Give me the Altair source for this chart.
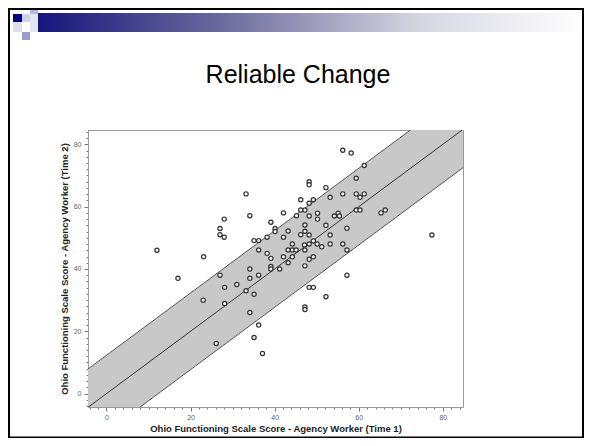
import altair as alt
import pandas as pd

# ---- data ----
time1 = [12.0, 17.0, 23.1, 23.0, 26.1, 27.0, 27.0, 27.0, 28.0, 28.0, 28.1, 28.1,
         31.0, 33.2, 33.2, 34.1, 34.1, 34.1, 34.1, 35.1, 35.1, 35.1, 36.2, 36.2,
         36.2, 36.2, 37.1, 38.2, 38.2, 39.1, 39.1, 39.1, 39.1, 40.1, 40.1, 41.2,
         42.1, 42.1, 42.1, 43.2, 43.2, 43.2, 44.2, 44.2, 44.2, 45.2, 45.1, 46.2,
         46.2, 46.2, 47.2, 47.2, 47.2, 47.1, 47.2, 47.2, 47.2, 47.2, 48.2, 48.2,
         48.2, 48.2, 48.2, 48.2, 48.2, 48.2, 49.2, 49.2, 49.2, 49.2, 50.2, 50.2,
         50.1, 51.2, 52.2, 52.2, 52.2, 53.2, 53.2, 53.2, 54.2, 55.1, 55.4, 56.2,
         56.2, 56.2, 57.2, 57.2, 57.2, 58.2, 59.4, 59.4, 59.4, 60.3, 60.3, 61.3,
         61.3, 65.3, 66.3, 77.4]
time2 = [46.0, 37.0, 43.9, 30.0, 16.1, 53.0, 51.0, 38.0, 50.2, 56.0, 34.1, 28.9,
         35.0, 64.1, 33.0, 57.1, 40.0, 37.0, 26.0, 49.1, 31.9, 18.0, 49.1, 46.1,
         38.0, 22.0, 12.9, 50.2, 45.0, 55.0, 43.4, 40.8, 40.0, 53.0, 52.0, 40.0,
         58.0, 50.2, 43.9, 52.2, 46.1, 42.0, 48.0, 46.1, 43.9, 57.1, 46.1, 62.2,
         58.9, 51.0, 58.9, 54.1, 52.1, 47.7, 46.1, 41.0, 27.8, 27.0, 68.0, 67.0,
         61.1, 57.0, 50.9, 48.0, 43.1, 34.1, 62.2, 49.0, 43.9, 34.1, 57.9, 56.0,
         48.0, 47.1, 66.1, 54.0, 31.1, 63.0, 50.9, 48.0, 57.0, 57.9, 57.0, 78.1,
         64.1, 48.0, 53.1, 46.1, 38.0, 77.2, 69.1, 64.1, 58.9, 63.0, 58.9, 73.2,
         64.1, 58.0, 58.9, 50.9]
rci = 12.3                     # reliable change half-width
line_x = [-10, 100]            # identity line extent (clipped to the frame)
x_domain = [-4.4, 84.8]
y_domain = [-4.3, 84.6]
minor_ticks = list(range(-4, 85, 2))

title_text = "Reliable Change"
x_title = "Ohio Functioning Scale Score - Agency Worker (Time 1)"
y_title = "Ohio Functioning Scale Score - Agency Worker (Time 2)"

pts = pd.DataFrame({"t1": time1, "t2": time2})
band = pd.DataFrame({"t1": line_x})
band["lo"] = band["t1"] - rci
band["hi"] = band["t1"] + rci
band["mid"] = band["t1"]

FONT = "Liberation Sans"
xs = alt.Scale(domain=x_domain, nice=False, zero=False)
ys = alt.Scale(domain=y_domain, nice=False, zero=False)

tick_cond = {"condition": {"test": "datum.value % 20 === 0", "value": 4}, "value": 2}
common_axis = dict(values=minor_ticks,
                   labelExpr="datum.value % 20 === 0 ? datum.label : ''",
                   labelOverlap=False, labelFontSize=7, labelColor="#666",
                   labelFont=FONT, tickColor="#777", tickSize=tick_cond,
                   domainColor="#999", grid=False,
                   titleFont=FONT, titleFontSize=9.5, titleFontWeight="bold",
                   titleColor="#222")
x_axis = alt.Axis(title=x_title, labelPadding=2, titlePadding=3, **common_axis)
y_axis = alt.Axis(title=y_title, labelPadding=3, titlePadding=4, **common_axis)

X = alt.X("t1:Q", scale=xs, axis=x_axis)
Y = alt.Y("t2:Q", scale=ys, axis=y_axis)

band_layer = alt.Chart(band).mark_area(clip=True, color="#c8c8c8").encode(
    x=X, y=alt.Y("lo:Q", scale=ys, axis=y_axis), y2="hi:Q")
edge_lo = alt.Chart(band).mark_line(clip=True, color="#555", strokeWidth=1).encode(
    x=X, y=alt.Y("lo:Q", scale=ys, axis=y_axis))
edge_hi = alt.Chart(band).mark_line(clip=True, color="#555", strokeWidth=1).encode(
    x=X, y=alt.Y("hi:Q", scale=ys, axis=y_axis))
mid_line = alt.Chart(band).mark_line(clip=True, color="#333", strokeWidth=1).encode(
    x=X, y=alt.Y("mid:Q", scale=ys, axis=y_axis))
points = alt.Chart(pts).mark_circle(size=18, fill="#f2f2f2", stroke="#333",
                                    strokeWidth=1.2, opacity=1).encode(x=X, y=Y)

one = alt.Data(values=[{}])
# slide decorations (pixel positions relative to the plot area)
header = alt.Chart(one).mark_rect(color=alt.LinearGradient(
    gradient="linear", x1=0, x2=1, y1=0, y2=0,
    stops=[alt.GradientStop(offset=0, color="#15157c"),
           alt.GradientStop(offset=0.35, color="#6e6ea0"),
           alt.GradientStop(offset=0.7, color="#d6d6e2"),
           alt.GradientStop(offset=1, color="#ffffff")])).encode(
    x=alt.value(-51), x2=alt.value(496), y=alt.value(-117), y2=alt.value(-98))

sq_specs = [(-75, -66, -116, -108, "#000080"),
            (-66, -58, -116, -108, "#cfd0ea"),
            (-58, -50, -123, -116, "#b4b4dc"),
            (-58, -50, -116, -98, "#e4e4f2"),
            (-66, -58, -98, -90, "#9c9ccc"),
            (-75, -66, -108, -98, "#dedef0")]
squares = [alt.Chart(one).mark_rect(color=c).encode(
    x=alt.value(a), x2=alt.value(b), y=alt.value(t), y2=alt.value(u))
    for a, b, t, u, c in sq_specs]

title = alt.Chart(one).mark_text(text=title_text, font=FONT, fontSize=25,
                                 color="black", baseline="middle",
                                 align="center").encode(
    x=alt.value(210), y=alt.value(-55))
border = alt.Chart(one).mark_rect(filled=False, stroke="black", strokeWidth=2).encode(
    x=alt.value(-79), x2=alt.value(495), y=alt.value(-121), y2=alt.value(307.5))

chart = alt.layer(band_layer, edge_lo, edge_hi, mid_line, points,
                  header, *squares, title, border).properties(
    width=375, height=277, autosize="none",
    padding={"left": 80, "top": 122, "right": 121, "bottom": 31},
    background="white",
).configure_view(stroke="#999", strokeWidth=1)

chart.save("out.html", embed_options={"renderer": "svg", "actions": False})
